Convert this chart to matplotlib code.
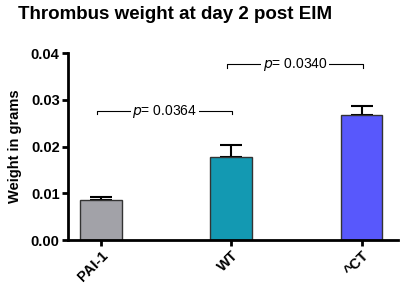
import matplotlib.pyplot as plt

plt.rcParams['font.family'] = ['Liberation Sans', 'DejaVu Sans']

groups = ['PAI-1', 'WT', '^CT']
means = [0.0085, 0.0177, 0.0267]
sem = [0.0008, 0.0027, 0.0019]
colors = ['#a2a2a8', '#1399b2', '#5858fc']

# significance brackets: (left group, right group, height, label)
brackets = [(0, 1, 0.0276, '0.0364'), (1, 2, 0.0376, '0.0340')]

fig = plt.figure(figsize=(4, 2.92), dpi=100)
ax = fig.add_axes([0.17, 0.178, 0.825, 0.64])

x = range(len(groups))
ax.bar(x, means, width=0.32, color=colors, edgecolor='#333333', linewidth=1, zorder=2)
ax.errorbar(x, means, yerr=[[0] * len(sem), sem], fmt='none', ecolor='black',
            elinewidth=1.5, capsize=8, capthick=1.5, zorder=1)

for a, b, h, lab in brackets:
    xl, xr = a - 0.03, b + 0.01
    ax.plot([xl, xl, xr, xr], [h - 0.0007, h, h, h - 0.0007], color='black', lw=0.8)
    ax.text((xl + xr) / 2, h, r'$\it{p}$= ' + lab, ha='center', va='center', fontsize=10,
            bbox=dict(facecolor='white', edgecolor='none', pad=1))

ax.set_xlim(-0.252, 2.28)
ax.set_ylim(0, 0.04)
ax.set_yticks([0, 0.01, 0.02, 0.03, 0.04])
ax.set_yticklabels(['0.00', '0.01', '0.02', '0.03', '0.04'], fontweight='bold', fontsize=10.5)
ax.set_xticks(list(x))
ax.set_xticklabels(groups, rotation=45, ha='right', rotation_mode='anchor',
                   fontweight='bold', fontsize=10.5)
ax.set_ylabel('Weight in grams', fontweight='bold', fontsize=10.5, labelpad=6)
ax.spines['top'].set_visible(False)
ax.spines['right'].set_visible(False)
ax.spines['left'].set_linewidth(2)
ax.spines['bottom'].set_linewidth(2)
ax.tick_params(width=2, length=4, pad=2)

fig.text(0.045, 0.95, 'Thrombus weight at day 2 post EIM', fontsize=13.5,
         fontweight='bold', va='center')

fig.savefig('out.png', dpi=100)
